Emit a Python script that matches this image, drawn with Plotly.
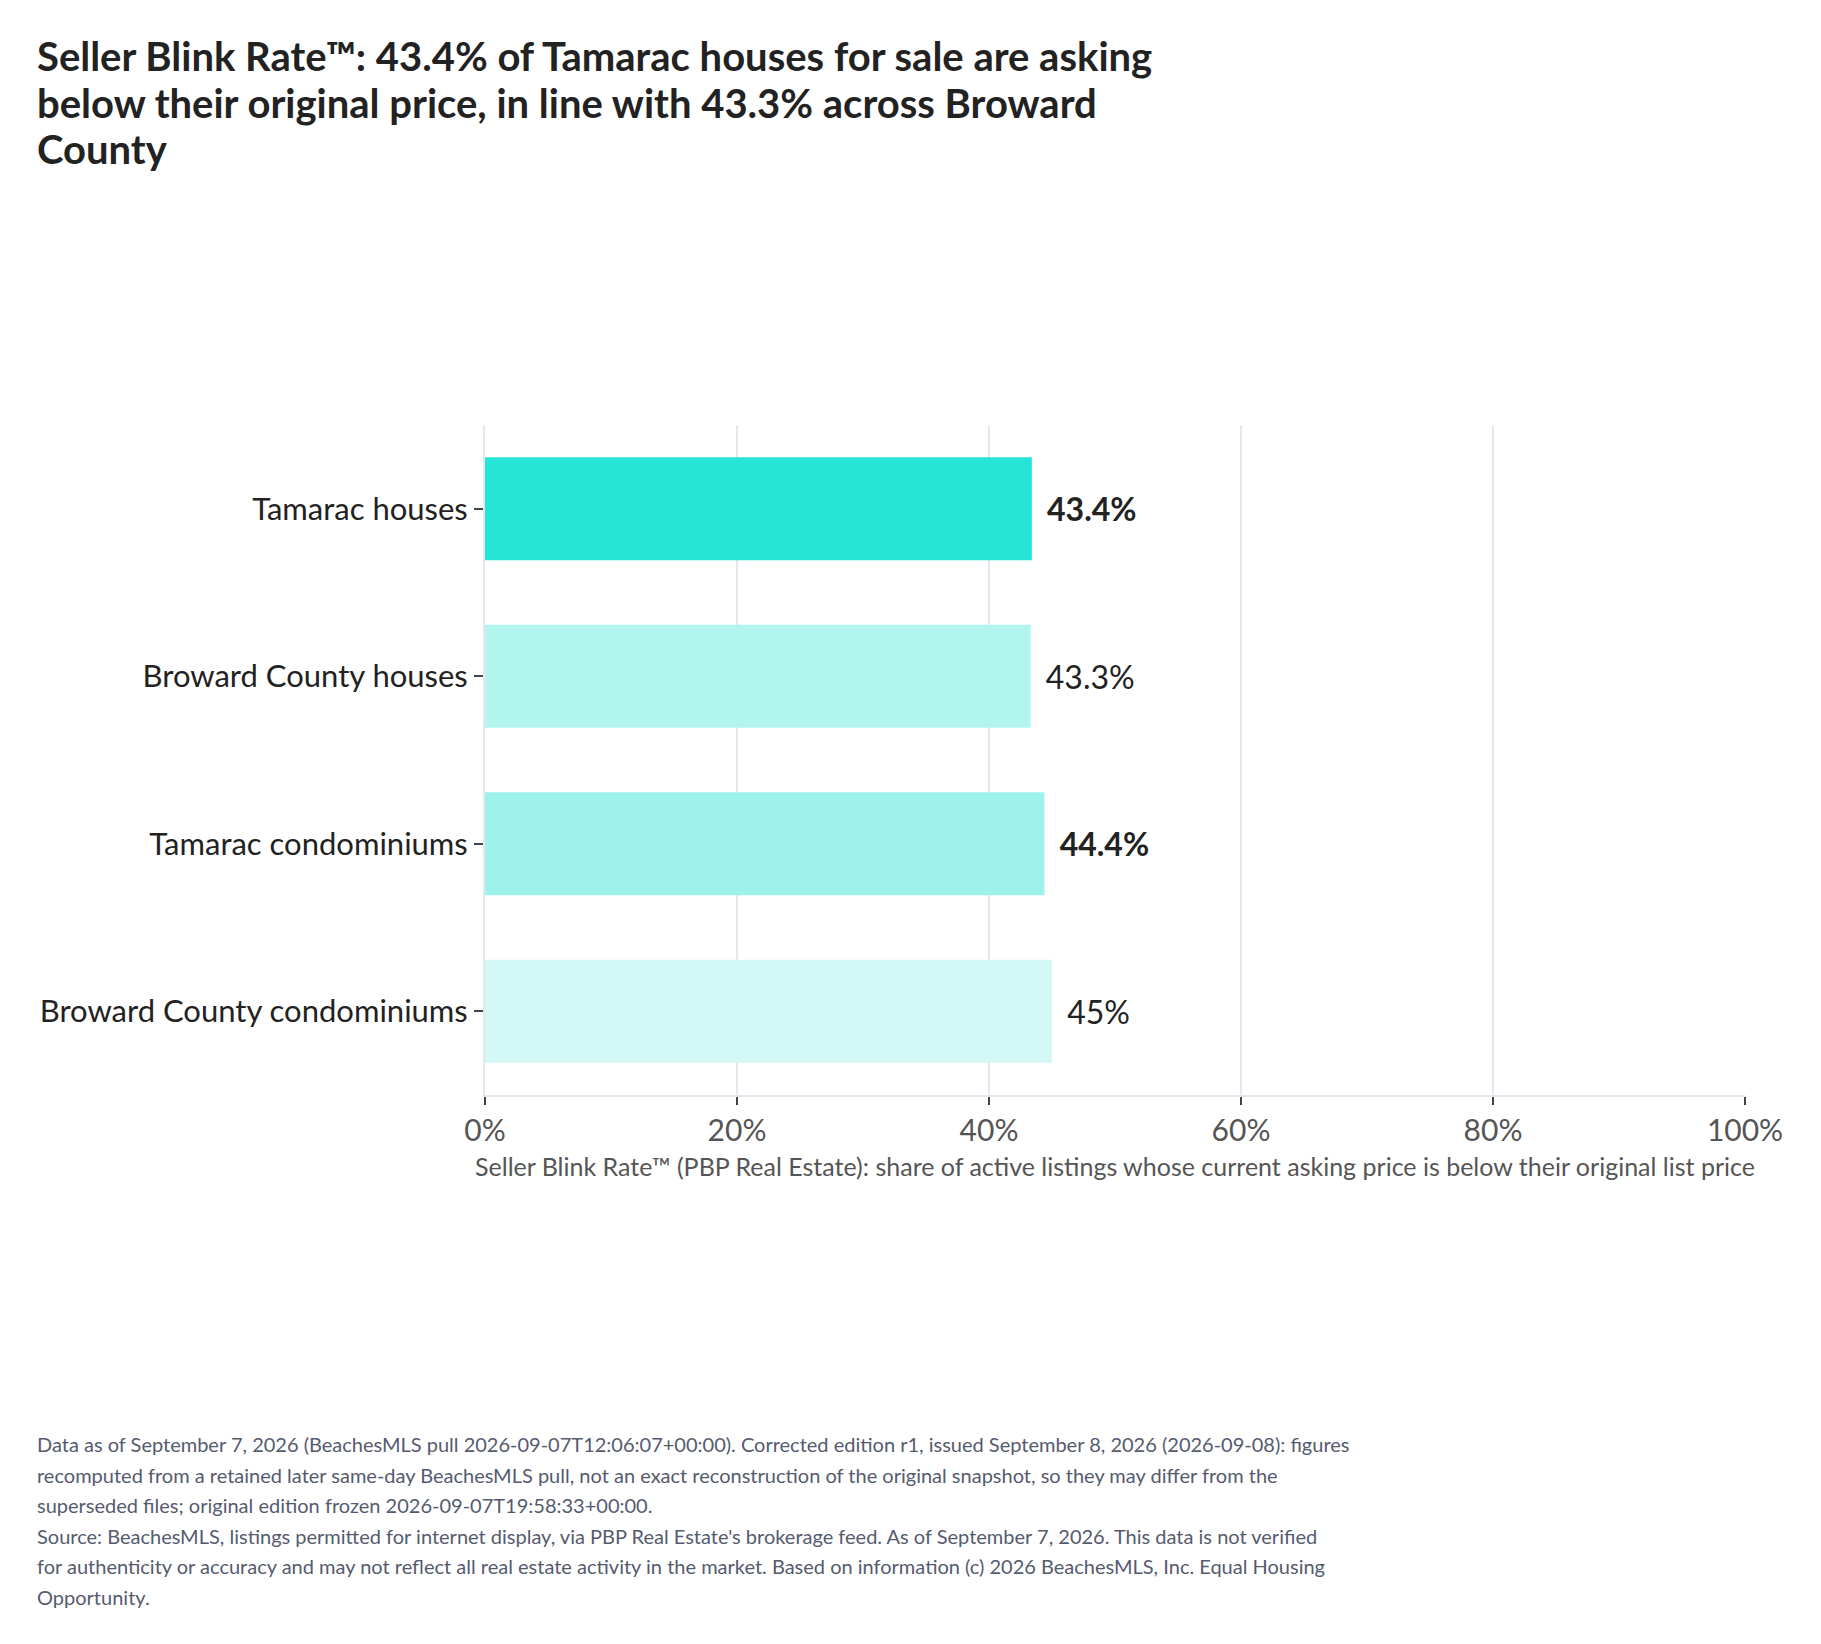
import plotly.graph_objects as go

# data
categories = ["Tamarac houses", "Broward County houses",
              "Tamarac condominiums", "Broward County condominiums"]
blink_rate = [43.4, 43.3, 44.4, 45.0]
is_tamarac = [True, False, True, False]
bar_colors = ["#26E4D6", "#B2F5EF", "#9EF2EC", "#D3F8F5"]

title_lines = [
    "Seller Blink Rate™: 43.4% of Tamarac houses for sale are asking",
    "below their original price, in line with 43.3% across Broward",
    "County",
]
x_title = ("Seller Blink Rate™ (PBP Real Estate): share of active listings whose "
           "current asking price is below their original list price")
note_lines = [
    "Data as of September 7, 2026 (BeachesMLS pull 2026-09-07T12:06:07+00:00). Corrected edition r1, issued September 8, 2026 (2026-09-08): figures",
    "recomputed from a retained later same-day BeachesMLS pull, not an exact reconstruction of the original snapshot, so they may differ from the",
    "superseded files; original edition frozen 2026-09-07T19:58:33+00:00.",
    "Source: BeachesMLS, listings permitted for internet display, via PBP Real Estate's brokerage feed. As of September 7, 2026. This data is not verified",
    "for authenticity or accuracy and may not reflect all real estate activity in the market. Based on information (c) 2026 BeachesMLS, Inc. Equal Housing",
    "Opportunity.",
]

W, H = 1821, 1644
L, R, T, B = 477, 84, 417, 557
PW, PH = W - L - R, H - T - B
FONT = "Lato"


def px_x(x):
    return (x - L) / PW


def px_y(y):
    return (H - B - y) / PH


labels = []
for v, bold in zip(blink_rate, is_tamarac):
    s = f"{v:g}%"
    labels.append("\u00a0\u2009" + (f"<b>{s}</b>" if bold else s))

fig = go.Figure()
fig.add_trace(go.Bar(
    x=blink_rate, y=categories, orientation="h",
    marker=dict(color=bar_colors, line=dict(width=0)),
    text=labels, textposition="outside", cliponaxis=False,
    textfont=dict(family=FONT, size=32, color="#222222"),
    hoverinfo="skip",
))

fig.update_layout(
    width=W, height=H,
    paper_bgcolor="white", plot_bgcolor="white",
    font=dict(family=FONT, color="#222222"),
    margin=dict(l=L, r=R, t=T, b=B),
    bargap=0.386,
    showlegend=False,
)

fig.update_xaxes(
    range=[0, 100], dtick=20, ticksuffix="%",
    showgrid=True, gridcolor="#E6E6EE", gridwidth=2,
    showline=True, linecolor="#E6E6EE", linewidth=2,
    zeroline=False,
    ticks="outside", ticklen=8, tickwidth=2, tickcolor="#444444",
    tickfont=dict(family=FONT, size=30, color="#555555"),
    title=dict(text=x_title, standoff=12,
               font=dict(family=FONT, size=25, color="#555555")),
)
fig.update_yaxes(
    autorange="reversed",
    showgrid=False, showline=True, linecolor="#E6E6EE", linewidth=2,
    ticks="outside", ticklen=9, tickwidth=2, tickcolor="#444444",
    tickfont=dict(family=FONT, size=31, color="#222222"),
)

# headline, one annotation per line to keep the tighter line spacing
for i, line in enumerate(title_lines):
    fig.add_annotation(
        text=f"<b>{line}</b>", xref="paper", yref="paper",
        x=px_x(27), y=px_y(48 + i * 46.5),
        xanchor="left", yanchor="middle", showarrow=False, align="left",
        font=dict(family=FONT, size=40, color="#222222"),
    )

# footnote
for i, line in enumerate(note_lines):
    fig.add_annotation(
        text=line, xref="paper", yref="paper",
        x=px_x(27), y=px_y(1436 + i * 30.6),
        xanchor="left", yanchor="middle", showarrow=False, align="left",
        font=dict(family=FONT, size=20, color="#555B6E"),
    )

fig.write_html("out.html")
